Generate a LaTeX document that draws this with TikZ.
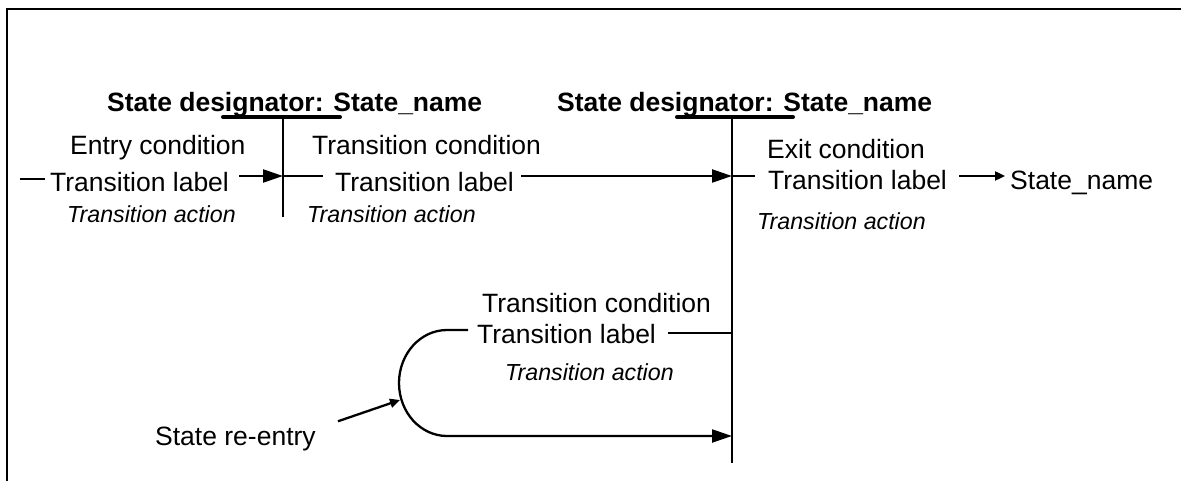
\documentclass[tikz,border=0pt]{standalone}
\usepackage{fontspec}
\setmainfont{Liberation Sans}
\usetikzlibrary{arrows.meta}
\begin{document}
\begin{tikzpicture}[x=1pt,y=-1pt,
  txt/.style={inner sep=0pt, anchor=base west, font=\fontsize{26.5}{30}\selectfont},
  hdr/.style={txt, font=\fontsize{26.5}{30}\selectfont\bfseries},
  act/.style={txt, font=\fontsize{23.2}{27}\selectfont\itshape},
  ln/.style={line width=2.3pt},
  ul/.style={line width=4pt, line cap=round},
  big/.style={ln, -{Triangle[length=20pt,width=13pt]}},
  small/.style={ln, -{Triangle[length=10pt,width=9pt]}}]
\useasboundingbox (0,0) rectangle (1181,481);
% frame
\draw[line width=2.5pt] (7,481) -- (7,9) -- (1181,9);
% headers
\node[hdr] (h1) at (107,112) {State designator: State\_name};
\node[hdr] (h2) at (557,112) {State designator: State\_name};
\coordinate (u1a) at (223,117); \coordinate (u1b) at (340,117);
\coordinate (u2a) at (677,117); \coordinate (u2b) at (793,117);
\draw[ul] (u1a) -- (u1b);
\draw[ul] (u2a) -- (u2b);
% state lines
\coordinate (v1t) at (283,117); \coordinate (v1b) at (283,217);
\coordinate (v2t) at (732,117); \coordinate (v2b) at (732,463);
\draw[ln] (v1t) -- (v1b);
\draw[ln] (v2t) -- (v2b);
\coordinate (v1m) at (283,176);
\coordinate (v2m) at (732,176);
\coordinate (v2n) at (732,333);
\coordinate (v2s) at (732,436);
% entry transition
\node[txt] (ec) at (70,155) {Entry condition};
\node[txt] (tl1) at (50,192) {Transition label};
\node[act] (ta1) at (67,223) {Transition action};
% middle transition
\node[txt] (tc2) at (312,155) {Transition condition};
\node[txt] (tl2) at (335,192) {Transition label};
\node[act] (ta2) at (307,223) {Transition action};
% exit transition
\node[txt] (xc) at (767,159) {Exit condition};
\node[txt] (tl3) at (768,190) {Transition label};
\node[txt] (sn) at (1010,190) {State\_name};
\node[act] (ta3) at (757,230) {Transition action};
% lower transition
\node[txt] (tc4) at (482,312) {Transition condition};
\node[txt] (tl4) at (477,343) {Transition label};
\node[act] (ta4) at (505,380) {Transition action};
\node[txt] (re) at (155,445) {State re-entry};
% connectors
\coordinate (in) at (20,179);
\draw[ln] (in) -- ([xshift=-5pt]tl1.west |- in);
\draw[big] ([xshift=10pt]tl1.east |- v1m) -- (v1m);
\draw[ln] (v1m) -- ([xshift=-12pt]tl2.west |- v1m);
\draw[big] ([xshift=7pt]tl2.east |- v2m) -- (v2m);
\draw[ln] (v2m) -- ([xshift=-13pt]tl3.west |- v2m);
\draw[small] ([xshift=12pt]tl3.east |- v2m) -- ([xshift=-5pt]sn.west |- v2m);
\draw[ln] ([xshift=12pt]tl4.east |- v2n) -- (v2n);
\coordinate (lt) at (447,330);
\draw[big] ([xshift=-9pt]tl4.west |- lt) -- (lt)
  arc[start angle=90,end angle=270,x radius=48pt,y radius=53pt] -- (v2s);
\coordinate (ra) at (400,400);
\draw[small] ([xshift=22pt,yshift=5pt]re.north east) -- (ra);
\end{tikzpicture}
\end{document}
